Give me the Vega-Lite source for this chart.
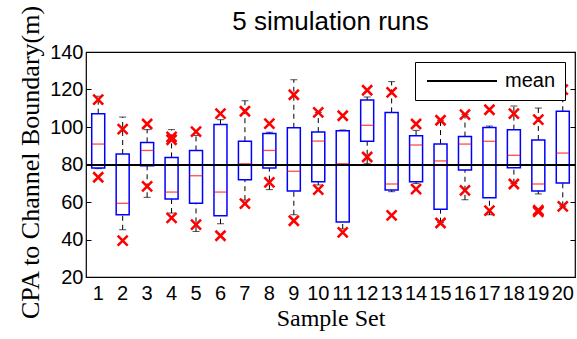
{
  "$schema": "https://vega.github.io/schema/vega-lite/v6.json",
  "width": 489,
  "height": 225,
  "autosize": {"type": "none"},
  "padding": {"left": 86, "top": 52, "right": 2, "bottom": 62},
  "background": "white",
  "title": {
    "text": "5 simulation runs",
    "font": "Liberation Sans",
    "fontSize": 26,
    "fontWeight": "normal",
    "color": "black",
    "frame": "group",
    "offset": 16,
    "dy": 46
  },
  "config": {
    "view": {"stroke": "black", "strokeWidth": 1.2},
    "axis": {
      "labelColor": "black",
      "titleColor": "black",
      "grid": false,
      "domain": false
    },
    "legend": {
      "orient": "top-right",
      "offset": 10,
      "fillColor": "white",
      "strokeColor": "black",
      "padding": 9,
      "labelFont": "Liberation Sans",
      "labelFontSize": 20,
      "labelColor": "black",
      "symbolType": "M-5,0L5,0",
      "symbolSize": 196,
      "symbolStrokeWidth": 2,
      "symbolOffset": 28,
      "labelOffset": 33
    }
  },
  "datasets": {
    "stats": [
      {"set": "1", "wlo": 77.8, "q1": 78.1, "med": 90.9, "q3": 107.1, "whi": 116.4},
      {"set": "2", "wlo": 45.2, "q1": 53.2, "med": 59.3, "q3": 85.6, "whi": 105.3},
      {"set": "3", "wlo": 62.5, "q1": 79.4, "med": 87.5, "q3": 91.8, "whi": 98.6},
      {"set": "4", "wlo": 54.1, "q1": 61.6, "med": 65.3, "q3": 83.8, "whi": 98.6},
      {"set": "5", "wlo": 44.3, "q1": 59.3, "med": 74.0, "q3": 87.5, "whi": 95.5},
      {"set": "6", "wlo": 48.4, "q1": 52.7, "med": 65.3, "q3": 101.4, "whi": 103.9},
      {"set": "7", "wlo": 61.0, "q1": 71.9, "med": 80.4, "q3": 92.4, "whi": 114.0},
      {"set": "8", "wlo": 66.6, "q1": 78.1, "med": 87.5, "q3": 96.6, "whi": 97.2},
      {"set": "9", "wlo": 53.2, "q1": 65.9, "med": 76.4, "q3": 99.6, "whi": 125.2},
      {"set": "10", "wlo": 69.1, "q1": 70.8, "med": 92.5, "q3": 97.3, "whi": 107.8},
      {"set": "11", "wlo": 45.6, "q1": 49.3, "med": 80.4, "q3": 98.0, "whi": 98.4},
      {"set": "12", "wlo": 80.4, "q1": 92.4, "med": 100.9, "q3": 114.4, "whi": 116.0},
      {"set": "13", "wlo": 65.5, "q1": 66.4, "med": 69.6, "q3": 107.8, "whi": 124.2},
      {"set": "14", "wlo": 69.8, "q1": 70.8, "med": 90.4, "q3": 95.4, "whi": 98.2},
      {"set": "15", "wlo": 49.0, "q1": 56.1, "med": 81.9, "q3": 90.9, "whi": 103.6},
      {"set": "16", "wlo": 61.2, "q1": 77.1, "med": 90.9, "q3": 94.9, "whi": 106.6},
      {"set": "17", "wlo": 53.2, "q1": 62.3, "med": 92.4, "q3": 99.8, "whi": 100.5},
      {"set": "18", "wlo": 69.8, "q1": 78.3, "med": 84.9, "q3": 98.6, "whi": 111.2},
      {"set": "19", "wlo": 64.3, "q1": 65.9, "med": 69.6, "q3": 93.1, "whi": 110.1},
      {"set": "20", "wlo": 57.7, "q1": 70.1, "med": 86.1, "q3": 108.4, "whi": 119.5}
    ],
    "runs": [
      {"set": "1", "cpa": 114.6}, {"set": "1", "cpa": 73.2},
      {"set": "2", "cpa": 98.9}, {"set": "2", "cpa": 39.4},
      {"set": "3", "cpa": 101.6}, {"set": "3", "cpa": 68.3},
      {"set": "4", "cpa": 94.7}, {"set": "4", "cpa": 93.2}, {"set": "4", "cpa": 51.5},
      {"set": "5", "cpa": 97.5}, {"set": "5", "cpa": 47.9},
      {"set": "6", "cpa": 107.1}, {"set": "6", "cpa": 42.0},
      {"set": "7", "cpa": 108.4}, {"set": "7", "cpa": 59.1},
      {"set": "8", "cpa": 101.8}, {"set": "8", "cpa": 70.5},
      {"set": "9", "cpa": 117.2}, {"set": "9", "cpa": 50.0},
      {"set": "10", "cpa": 107.8}, {"set": "10", "cpa": 66.6},
      {"set": "11", "cpa": 106.0}, {"set": "11", "cpa": 43.8},
      {"set": "12", "cpa": 119.6}, {"set": "12", "cpa": 84.0},
      {"set": "13", "cpa": 118.5}, {"set": "13", "cpa": 52.9},
      {"set": "14", "cpa": 101.6}, {"set": "14", "cpa": 66.9},
      {"set": "15", "cpa": 103.6}, {"set": "15", "cpa": 48.8},
      {"set": "16", "cpa": 106.6}, {"set": "16", "cpa": 66.2},
      {"set": "17", "cpa": 109.2}, {"set": "17", "cpa": 55.4},
      {"set": "18", "cpa": 107.1}, {"set": "18", "cpa": 69.6},
      {"set": "19", "cpa": 103.9}, {"set": "19", "cpa": 55.6}, {"set": "19", "cpa": 54.8},
      {"set": "20", "cpa": 119.9}, {"set": "20", "cpa": 57.7}
    ],
    "overall": [{"label": "mean", "cpa": 79.7}]
  },
  "resolve": {"scale": {"y": "shared"}, "axis": {"y": "independent"}},
  "layer": [
    {
      "data": {"name": "stats"},
      "mark": {"type": "rule", "stroke": "black", "strokeWidth": 1, "strokeDash": [5, 4]},
      "encoding": {
        "x": {
          "field": "set", "type": "ordinal", "sort": null,
          "scale": {"paddingInner": 0, "paddingOuter": 0},
          "axis": {
            "title": "Sample Set",
            "titleFont": "Liberation Serif",
            "titleFontSize": 24,
            "titleFontWeight": "normal",
            "titlePadding": 3,
            "labelFont": "Liberation Sans",
            "labelFontSize": 20,
            "labelAngle": 0,
            "labelOverlap": false,
            "labelPadding": 6,
            "ticks": false
          }
        },
        "y": {
          "field": "q3", "type": "quantitative",
          "scale": {"domain": [20, 140], "nice": false, "zero": false},
          "axis": {
            "orient": "left",
            "values": [20, 40, 60, 80, 100, 120, 140],
            "title": "CPA to Channel Boundary(m)",
            "titleFont": "Liberation Serif",
            "titleFontSize": 26,
            "titleFontWeight": "normal",
            "titlePadding": 6,
            "titleY": 110,
            "labelFont": "Liberation Sans",
            "labelFontSize": 20,
            "labelPadding": 8,
            "tickSize": -5,
            "tickColor": "black"
          }
        },
        "y2": {"field": "whi"}
      }
    },
    {
      "data": {"name": "stats"},
      "mark": {"type": "rule", "stroke": "black", "strokeWidth": 1, "strokeDash": [5, 4]},
      "encoding": {
        "x": {"field": "set", "type": "ordinal", "sort": null},
        "y": {"field": "wlo", "type": "quantitative", "axis": null},
        "y2": {"field": "q1"}
      }
    },
    {
      "data": {"name": "stats"},
      "mark": {"type": "tick", "color": "black", "size": 7, "thickness": 1},
      "encoding": {
        "x": {"field": "set", "type": "ordinal", "sort": null},
        "y": {"field": "whi", "type": "quantitative", "axis": null}
      }
    },
    {
      "data": {"name": "stats"},
      "mark": {"type": "tick", "color": "black", "size": 7, "thickness": 1},
      "encoding": {
        "x": {"field": "set", "type": "ordinal", "sort": null},
        "y": {"field": "wlo", "type": "quantitative", "axis": null}
      }
    },
    {
      "data": {"name": "stats"},
      "mark": {"type": "bar", "size": 13, "fill": "white", "fillOpacity": 0, "stroke": "#0000ff", "strokeWidth": 1.5},
      "encoding": {
        "x": {"field": "set", "type": "ordinal", "sort": null},
        "y": {"field": "q1", "type": "quantitative", "axis": null},
        "y2": {"field": "q3"}
      }
    },
    {
      "data": {"name": "stats"},
      "mark": {"type": "tick", "color": "#ff0000", "size": 13, "thickness": 1.3},
      "encoding": {
        "x": {"field": "set", "type": "ordinal", "sort": null},
        "y": {"field": "med", "type": "quantitative", "axis": null}
      }
    },
    {
      "data": {"name": "overall"},
      "mark": {"type": "rule", "strokeWidth": 2},
      "encoding": {
        "y": {
          "field": "cpa", "type": "quantitative",
          "axis": {
            "orient": "right",
            "values": [20, 40, 60, 80, 100, 120, 140],
            "labels": false,
            "title": null,
            "tickSize": -5,
            "tickColor": "black"
          }
        },
        "stroke": {
          "field": "label", "type": "nominal",
          "scale": {"range": ["black"]},
          "legend": {"title": null}
        }
      }
    },
    {
      "data": {"name": "runs"},
      "mark": {
        "type": "point",
        "shape": "M-1,-1L1,1M-1,1L1,-1",
        "filled": false,
        "stroke": "#ff0000",
        "strokeWidth": 2.5,
        "size": 100,
        "opacity": 1
      },
      "encoding": {
        "x": {"field": "set", "type": "ordinal", "sort": null},
        "y": {"field": "cpa", "type": "quantitative", "axis": null}
      }
    }
  ]
}
